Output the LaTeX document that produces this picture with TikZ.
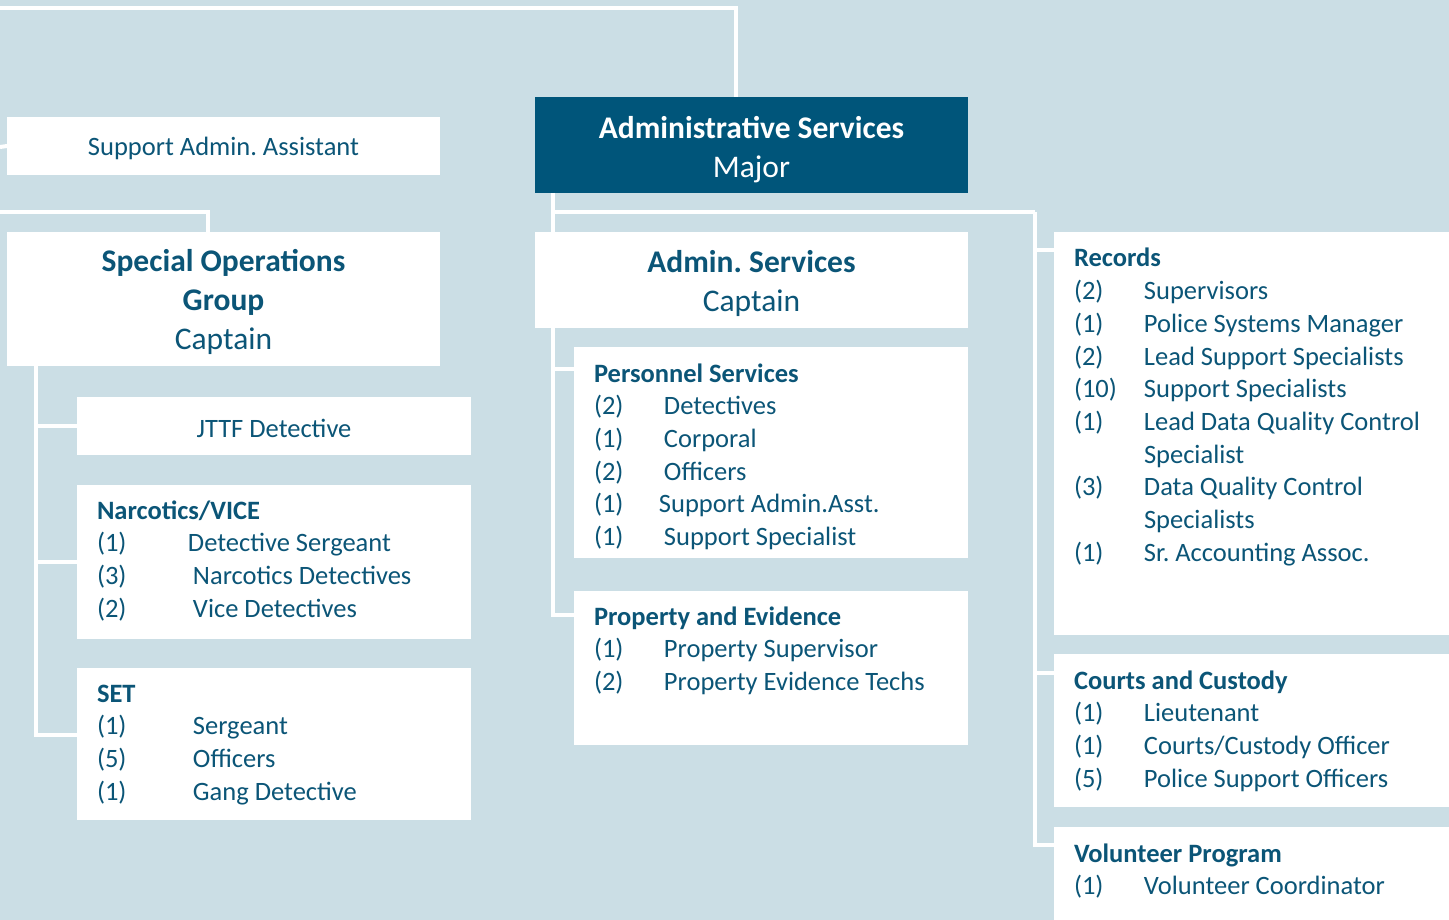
\documentclass[tikz,border=0pt]{standalone}
\usepackage{fontspec}
\setmainfont{Carlito}
\usetikzlibrary{calc}
\definecolor{bgc}{HTML}{CBDEE5}
\definecolor{navy}{HTML}{00557A}
\definecolor{tcol}{HTML}{0B5577}
\newcommand{\bodyfs}{\fontsize{26.5}{32.7}\selectfont}
\newcommand{\titlefs}{\fontsize{31.5}{39}\selectfont}
\frenchspacing
\begin{document}
\frenchspacing
\begin{tikzpicture}[x=1pt,y=-1pt,
  box/.style={fill=white,inner sep=0pt,outer sep=0pt,anchor=north west},
  ttl/.style={inner sep=0pt,outer sep=0pt,text=tcol,align=center},
  conn/.style={draw=white,line width=4pt},
  lst/.style={anchor=base west,inner sep=0pt,outer sep=0pt,text=tcol,font=\bodyfs}]
\fill[bgc] (0,0) rectangle (1449,920);
\useasboundingbox (0,0) rectangle (1449,920);

% boxes
\node[box,minimum width=433pt,minimum height=58pt] (saa) at (7,117) {};
\node[box,fill=navy,minimum width=433pt,minimum height=96pt] (major) at (535,97) {};
\node[box,minimum width=433pt,minimum height=134pt] (sog) at (7,232) {};
\node[box,minimum width=394pt,minimum height=58pt] (jttf) at (77,397) {};
\node[box,minimum width=394pt,minimum height=154pt] (narc) at (77,485) {};
\node[box,minimum width=394pt,minimum height=152pt] (set) at (77,668) {};
\node[box,minimum width=433pt,minimum height=96pt] (asc) at (535,232) {};
\node[box,minimum width=394pt,minimum height=211pt] (pers) at (574,347) {};
\node[box,minimum width=394pt,minimum height=154pt] (prop) at (574,591) {};
\node[box,minimum width=395pt,minimum height=403pt] (rec) at (1054,232) {};
\node[box,minimum width=395pt,minimum height=153pt] (cc) at (1054,654) {};
\node[box,minimum width=395pt,minimum height=93pt] (vol) at (1054,827) {};

% centred texts
\node[ttl,font=\bodyfs] (saaT) at ([yshift=-2pt]saa.center) {Support Admin. Assistant};
\node[ttl,font=\titlefs,text=white] (majorT) at ([yshift=-5pt]major.center) {\bfseries Administrative Services\\Major};
\node[ttl,font=\titlefs] (sogT) at ([yshift=-3pt]sog.center) {\bfseries Special Operations\\\bfseries Group\\Captain};
\node[ttl,font=\bodyfs] (jttfT) at ([yshift=-2pt]jttf.center) {JTTF Detective};
\node[ttl,font=\titlefs] (ascT) at ([yshift=-3pt]asc.center) {\bfseries Admin. Services\\Captain};

% connectors
\coordinate (topL) at (0,8);
\coordinate (saL) at (0,147);
\coordinate (soL) at (0,212);
\coordinate (busR) at (1035,212);
\draw[conn] (topL) -| ([xshift=-15.5pt]major.north);
\draw[conn] (saL) -- (saa.west);
\draw[conn] (soL) -| ([xshift=-15.5pt]sog.north);
\draw[conn] ([xshift=29pt]sog.south west) |- (jttf.west);
\draw[conn] ([xshift=29pt]sog.south west) |- (narc.west);
\draw[conn] ([xshift=29pt]sog.south west) |- ([yshift=9pt]set.west);
\draw[conn] ([xshift=18pt]major.south west) -- ([xshift=18pt]asc.north west);
\draw[conn] ([xshift=18pt]major.south west |- busR) -- (busR);
\draw[conn] (busR) |- ([yshift=-18pt]rec.north west);
\draw[conn] (busR) |- ([yshift=-19pt]cc.north west);
\draw[conn] (busR) |- ([yshift=-18pt]vol.north west);
\draw[conn] ([xshift=18pt]asc.south west) |- ([yshift=-22pt]pers.north west);
\draw[conn] ([xshift=18pt]asc.south west) |- ([yshift=-24pt]prop.north west);

% list texts
\node[lst] (narcT) at (97,519) {\begin{tabular}[t]{@{}p{96pt}@{}l@{}}
\multicolumn{2}{@{}l@{}}{\bfseries Narcotics/VICE}\\
(1) & \hspace{-5pt}Detective Sergeant\\
(3) & Narcotics Detectives\\
(2) & Vice Detectives
\end{tabular}};
\node[lst] (setT) at (97,702) {\begin{tabular}[t]{@{}p{96pt}@{}l@{}}
\multicolumn{2}{@{}l@{}}{\bfseries SET}\\
(1) & Sergeant\\
(5) & Officers\\
(1) & Gang Detective
\end{tabular}};
\node[lst] (persT) at (594,382) {\begin{tabular}[t]{@{}p{70pt}@{}l@{}}
\multicolumn{2}{@{}l@{}}{\bfseries Personnel Services}\\
(2) & Detectives\\
(1) & Corporal\\
(2) & Officers\\
(1) & \hspace{-5pt}Support Admin.Asst.\\
(1) & Support Specialist
\end{tabular}};
\node[lst] (propT) at (594,625) {\begin{tabular}[t]{@{}p{70pt}@{}l@{}}
\multicolumn{2}{@{}l@{}}{\bfseries Property and Evidence}\\
(1) & Property Supervisor\\
(2) & Property Evidence Techs
\end{tabular}};
\node[lst] (recT) at (1074,267) {\begin{tabular}[t]{@{}p{70pt}@{}l@{}}
\multicolumn{2}{@{}l@{}}{\bfseries Records}\\
(2) & Supervisors\\
(1) & Police Systems Manager\\
(2) & Lead Support Specialists\\
(10) & Support Specialists\\
(1) & Lead Data Quality Control\\
 & Specialist\\
(3) & Data Quality Control\\
 & Specialists\\
(1) & Sr. Accounting Assoc.
\end{tabular}};
\node[lst] (ccT) at (1074,689) {\begin{tabular}[t]{@{}p{70pt}@{}l@{}}
\multicolumn{2}{@{}l@{}}{\bfseries Courts and Custody}\\
(1) & Lieutenant\\
(1) & Courts/Custody Officer\\
(5) & Police Support Officers
\end{tabular}};
\node[lst] (volT) at (1074,862) {\begin{tabular}[t]{@{}p{70pt}@{}l@{}}
\multicolumn{2}{@{}l@{}}{\bfseries Volunteer Program}\\
(1) & Volunteer Coordinator
\end{tabular}};
\end{tikzpicture}
\end{document}
